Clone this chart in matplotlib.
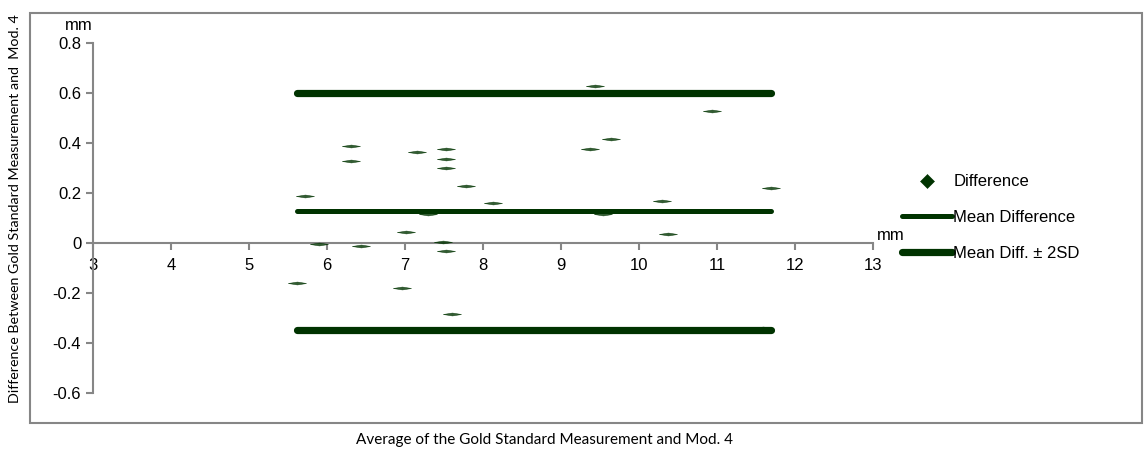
import numpy as np
import matplotlib
matplotlib.use("Agg")
import matplotlib.pyplot as plt
from matplotlib.patches import Rectangle

# Bland-Altman data
avg = [5.62, 5.72, 5.90, 6.31, 6.31, 6.43, 7.01, 6.96, 7.16, 7.29,
       7.52, 7.52, 7.52, 7.49, 7.52, 7.78, 7.60, 8.13, 9.43, 9.37,
       9.64, 9.54, 10.30, 10.37, 10.93, 10.87, 11.69, 11.59]
diff = [-0.16, 0.19, -0.005, 0.39, 0.33, -0.01, 0.044, -0.18, 0.364, 0.117,
        0.375, 0.335, 0.30, 0.004, -0.03, 0.228, -0.285, 0.16, 0.63, 0.375,
        0.417, 0.117, 0.17, 0.035, 0.53, 0.127, 0.22, -0.34]
x_range = [5.62, 11.69]
mean_diff = 0.127
upper_sd = 0.60
lower_sd = -0.348

green = "#003300"
grey = "#868686"

plt.rcParams['font.family'] = ['Liberation Sans', 'DejaVu Sans']

fig = plt.figure(figsize=(11.44, 4.49), dpi=100)
ax = fig.add_axes([0.0813, 0.1247, 0.6818, 0.7795])

flat_diamond = [(-1, 0), (0, 0.16), (1, 0), (0, -0.16), (-1, 0)]
pts, = ax.plot(avg, diff, linestyle='none', marker=flat_diamond, markersize=13,
               markeredgewidth=0.4, color=green, alpha=0.8, label='Difference', zorder=3)
ml, = ax.plot(x_range, [mean_diff, mean_diff], color=green, lw=3.6,
              solid_capstyle='round', label='Mean Difference')
ax.plot(x_range, [upper_sd, upper_sd], color=green, lw=5.2, solid_capstyle='round')
sl, = ax.plot(x_range, [lower_sd, lower_sd], color=green, lw=5.2,
              solid_capstyle='round', label='Mean Diff. \u00b1 2SD')

ax.set_xlim(3, 13)
ax.set_ylim(-0.6, 0.8)
ax.set_xticks(np.arange(3, 14, 1))
ax.set_yticks(np.round(np.arange(-0.6, 0.81, 0.2), 1))
ax.set_yticklabels(['-0.6', '-0.4', '-0.2', '0', '0.2', '0.4', '0.6', '0.8'])

for s in ['top', 'right']:
    ax.spines[s].set_visible(False)
ax.spines['bottom'].set_position(('data', 0))
for s in ['left', 'bottom']:
    ax.spines[s].set_color(grey)
    ax.spines[s].set_linewidth(1.5)
ax.tick_params(axis='both', colors=grey, labelcolor='black', labelsize=12,
               length=5, width=1.5, direction='out')
ax.tick_params(axis='x', pad=6)

ax.text(0.0, 1.03, 'mm', transform=ax.transAxes, fontsize=12, ha='right', va='bottom')
ax.text(13.05, 0.0, 'mm', fontsize=12, ha='left', va='bottom')

leg = fig.legend(handles=[pts, ml, sl], loc='center left', bbox_to_anchor=(0.775, 0.515),
                 frameon=False, fontsize=12, handlelength=3.0, handletextpad=0.1,
                 labelspacing=1.25)
pts_h = leg.legend_handles[0]
pts_h.set_marker('D')
pts_h.set_markersize(7)
pts_h.set_alpha(1)

fig.text(0.476, 0.005, 'Average of the Gold Standard Measurement and Mod. 4',
         ha='center', va='bottom', fontsize=11, family=['Lato', 'DejaVu Sans'])
fig.text(0.013, 0.535, 'Difference Between Gold Standard Measurement and  Mod. 4',
         rotation=90, ha='center', va='center', fontsize=10.3, family=['Lato', 'DejaVu Sans'])

fig.patches.append(Rectangle((30 / 1144, 26 / 449), 1112 / 1144, 410 / 449,
                             transform=fig.transFigure, fill=False,
                             edgecolor=grey, lw=1.5))

fig.savefig('out.png', dpi=100)
